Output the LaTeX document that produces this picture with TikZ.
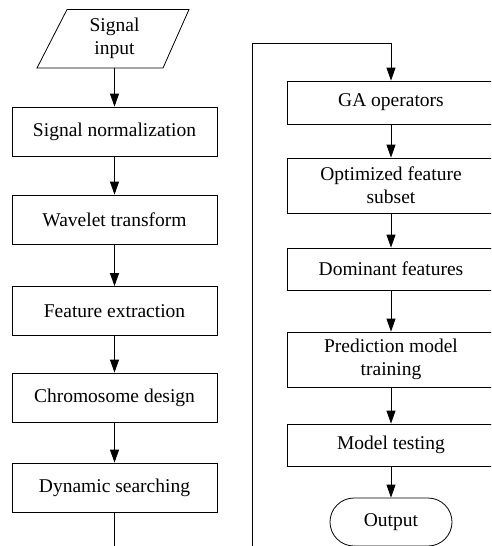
\documentclass[tikz,border=0pt]{standalone}
\usepackage{fontspec}
\setmainfont{Liberation Serif}
\usetikzlibrary{arrows.meta,shapes.misc}
\begin{document}
\begin{tikzpicture}[x=1pt,y=-1pt,
  every node/.style={font=\fontsize{19.5}{23}\selectfont, inner sep=0pt, align=center},
  lbox/.style={draw, line width=0.8pt, minimum width=205pt, minimum height=49pt},
  rbox/.style={draw, line width=0.8pt, minimum width=208pt},
  arr/.style={line width=0.8pt, -{Triangle[length=13pt,width=9pt]}},
  ln/.style={line width=0.8pt}]
\useasboundingbox (0,0) rectangle (491,546);
\clip (0,0) rectangle (491,546);
\fill[white] (0,0) rectangle (491,546);
% input parallelogram
\draw[ln] (67,9.5) -- (189,9.5) -- (163,68) -- (37,68) -- cycle;
\node[minimum height=58.5pt] (in) at (114.5,38.75) {Signal\\input};
% left column
\node[lbox] (b1) at (114.5,131.5) {Signal normalization};
\node[lbox] (b2) at (114.5,219.5) {Wavelet transform};
\node[lbox] (b3) at (114.5,311) {Feature extraction};
\node[lbox] (b4) at (114.5,397.5) {Chromosome design};
\node[lbox] (b5) at (114.5,487.5) {Dynamic searching};
% right column
\node[rbox, minimum height=43pt] (r1) at (391,102.5) {GA operators};
\node[rbox, minimum height=55pt] (r2) at (391,185.5) {Optimized feature\\subset};
\node[rbox, minimum height=42pt] (r3) at (391,269) {Dominant features};
\node[rbox, minimum height=55pt] (r4) at (391,359.5) {Prediction model\\training};
\node[rbox, minimum height=42pt] (r5) at (391,445) {Model testing};
\node[draw, line width=0.8pt, rounded rectangle, minimum width=122pt, minimum height=48pt] (out) at (391,522) {Output};
% connectors
\draw[arr] (in) -- (b1);
\draw[arr] (b1) -- (b2);
\draw[arr] (b2) -- (b3);
\draw[arr] (b3) -- (b4);
\draw[arr] (b4) -- (b5);
\coordinate (lend) at (114.5,560);
\draw[ln] (b5) -- (lend);
\coordinate (rstart) at (252,560);
\coordinate (rtop) at (252,43);
\draw[arr] (rstart) -- (rtop) -| (r1.north);
\draw[arr] (r1) -- (r2);
\draw[arr] (r2) -- (r3);
\draw[arr] (r3) -- (r4);
\draw[arr] (r4) -- (r5);
\draw[arr] (r5) -- (out);
\end{tikzpicture}
\end{document}
